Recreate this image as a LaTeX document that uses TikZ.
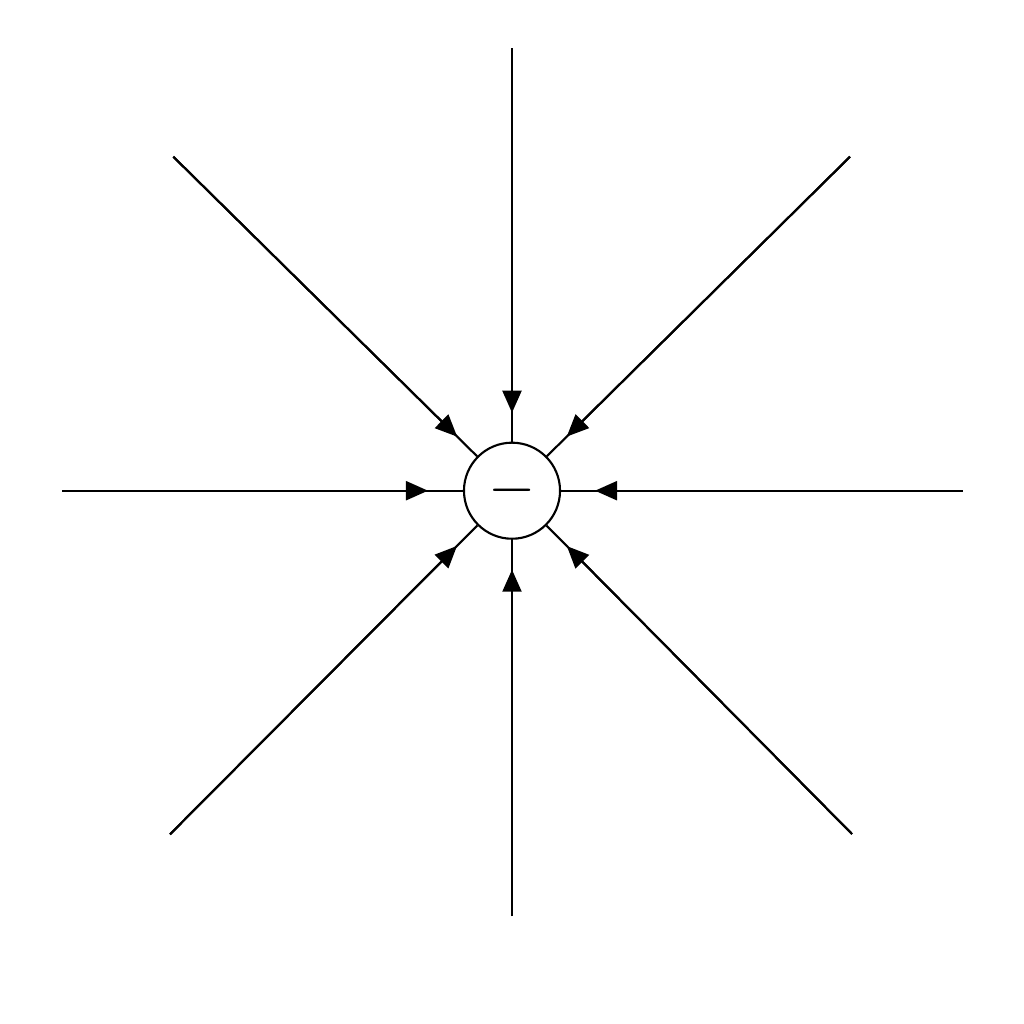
\documentclass[tikz,border=0pt]{standalone}
\usetikzlibrary{arrows.meta,calc}
\begin{document}
\begin{tikzpicture}[x=0.01cm,y=-0.01cm,
  fieldline/.style={line width=0.6pt,black},
  fieldarrow/.style={line width=0.6pt,black,-{Triangle[length=0.22cm,width=0.19cm]}},
  charge/.style={circle,draw,line width=0.6pt,minimum size=0.96cm,inner sep=0pt,font=\fontsize{16}{16}\selectfont}]
\useasboundingbox (0,0) rectangle (1024,1024);
\node[charge] (c) at (512,490.7) {$-$};
\coordinate (t) at (512,48);
\coordinate (b) at (512,916);
\coordinate (l) at (62,490.7);
\coordinate (r) at (962.7,490.7);
\coordinate (tl) at (173.3,156.7);
\coordinate (tr) at (850,156.7);
\coordinate (bl) at (170,834.3);
\coordinate (br) at (852,834);
\foreach \p/\d in {t/78,b/79,l/84,r/83,tl/77,tr/77,bl/78,br/78}{
  \draw[fieldline] (\p) -- (c);
  \draw[fieldarrow] (\p) -- ($(c.center)!\d*0.01cm!(\p)$);
}
\end{tikzpicture}
\end{document}
